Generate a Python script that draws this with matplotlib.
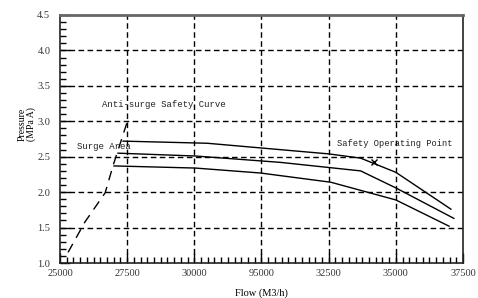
import matplotlib
matplotlib.use('Agg')

import matplotlib.pyplot as plt
from matplotlib.ticker import MultipleLocator

# axis ticks (labels as printed on the original, evenly spaced)
x_ticks = [25000, 27500, 30000, 32500, 35000, 37500, 40000]
x_labels = ['25000', '27500', '30000', '95000', '32500', '35000', '37500']
y_ticks = [1.0, 1.5, 2.0, 2.5, 3.0, 3.5, 4.0, 4.5]
y_labels = ['1.0', '1.5', '2.0', '2.5', '3.0', '3.5', '4.0', '4.5']

# anti-surge safety curve
surge_x = [25300, 25930, 26680, 26980, 27500]
surge_y = [1.15, 1.58, 1.99, 2.38, 2.99]

# performance curves
top_x = [27350, 30480, 35000, 36190, 37500, 39550]
top_y = [2.72, 2.69, 2.54, 2.48, 2.28, 1.76]
mid_x = [27160, 30040, 33210, 36190, 37500, 39660]
mid_y = [2.55, 2.51, 2.42, 2.30, 2.06, 1.63]
low_x = [27010, 30040, 32460, 35080, 37500, 39480]
low_y = [2.37, 2.34, 2.27, 2.14, 1.89, 1.52]

# safety operating point
op_x = [36680]
op_y = [2.42]

serif = 'Liberation Serif'
mono = 'Liberation Mono'


def run():
    fig = plt.figure(figsize=(4.78, 2.98), dpi=100)
    ax = fig.add_axes([0.1255, 0.1174, 0.8431, 0.8323])

    ax.set_xlim(25000, 40000)
    ax.set_ylim(1.0, 4.5)

    # grid
    for x in x_ticks[1:-1]:
        ax.axvline(x, color='k', lw=1.0, ls=(0, (4, 2.5)), zorder=1)
    for y in y_ticks[1:-1]:
        ax.axhline(y, color='k', lw=1.0, ls=(0, (4, 2.5)), zorder=1)

    ax.plot(surge_x, surge_y, color='k', lw=1.0, ls=(0, (7, 5)), zorder=3)
    ax.plot(top_x, top_y, color='k', lw=1.0, zorder=3)
    ax.plot(mid_x, mid_y, color='k', lw=1.0, zorder=3)
    ax.plot(low_x, low_y, color='k', lw=1.0, zorder=3)
    ax.plot(op_x, op_y, 'x', color='k', ms=4, mew=1.0, zorder=4)

    ax.text(26580, 3.24, 'Anti-surge Safety Curve', fontsize=6.5, family=mono,
            color='#222222', ha='left', va='center', zorder=5)
    ax.text(25630, 2.64, 'Surge Area', fontsize=6.5, family=mono,
            color='#222222', ha='left', va='center', zorder=5)
    ax.text(35300, 2.69, 'Safety Operating Point', fontsize=6.3, family=mono,
            color='#222222', ha='left', va='center', zorder=5)

    ax.set_xticks(x_ticks)
    ax.set_xticklabels(x_labels, family=serif, fontsize=7.5, color='#333333')
    ax.set_yticks(y_ticks)
    ax.set_yticklabels(y_labels, family=serif, fontsize=7.5, color='#333333')
    ax.xaxis.set_minor_locator(MultipleLocator(250))
    ax.yaxis.set_minor_locator(MultipleLocator(0.1))
    ax.tick_params(which='both', direction='in', top=False, right=False)
    ax.tick_params(which='major', length=7, width=1.0, pad=4)
    ax.tick_params(axis='y', which='major', pad=7)
    ax.tick_params(which='minor', length=4, width=1.0)

    ax.set_xlabel('Flow (M3/h)', family=serif, fontsize=7.5, labelpad=8)
    ax.set_ylabel('Pressure\n(MPa A)', family=serif, fontsize=7,
                  linespacing=1.0)
    ax.yaxis.set_label_coords(-0.06, 0.56)

    for side in ['left', 'bottom', 'right']:
        ax.spines[side].set_linewidth(1.2)
        ax.spines[side].set_color('#222222')
    ax.spines['top'].set_linewidth(2.0)
    ax.spines['top'].set_color('#666666')

    return fig


def main():
    fig = run()
    fig.savefig('out.png', dpi=100)


if __name__ == '__main__':
    main()
